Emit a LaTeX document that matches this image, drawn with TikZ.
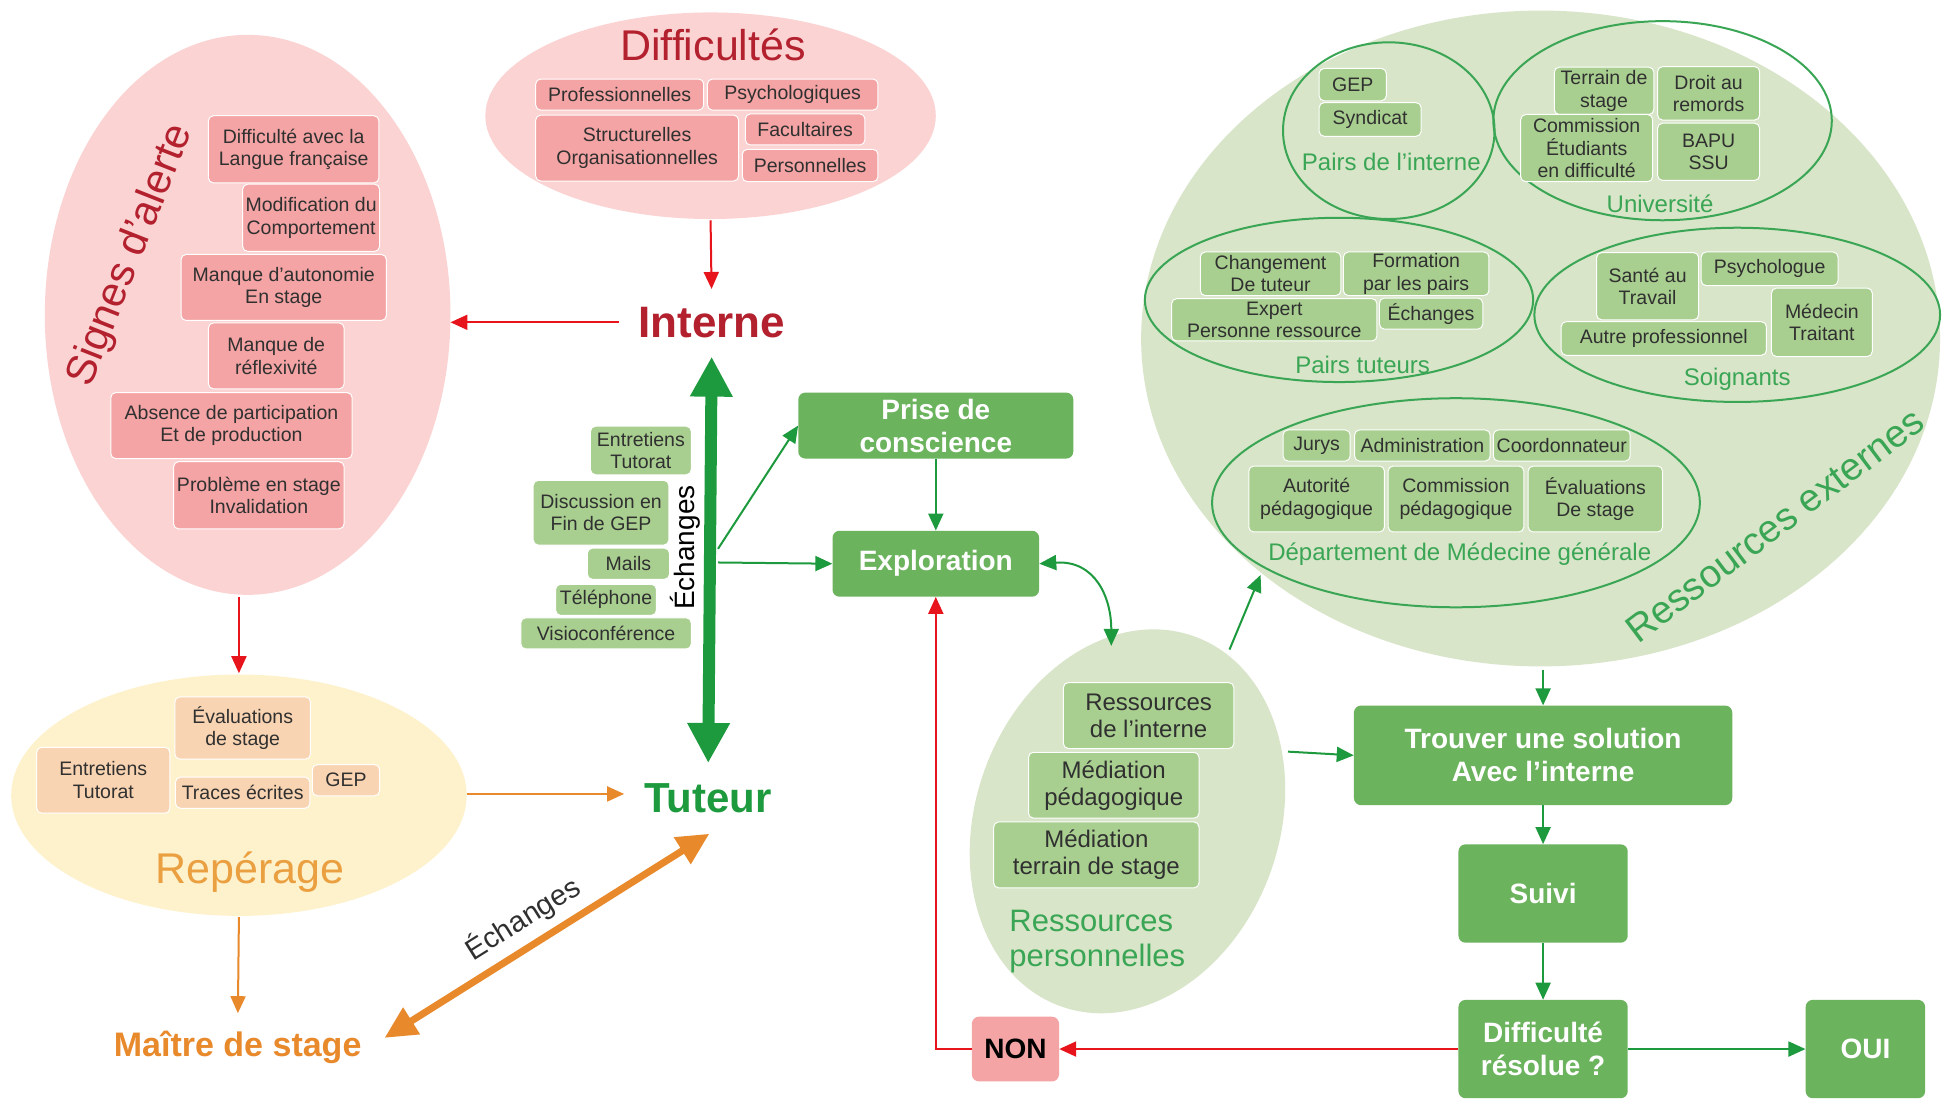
\documentclass[tikz,border=0pt]{standalone}
\usepackage{fontspec}
\setmainfont{Liberation Sans}
\usetikzlibrary{shapes.geometric,arrows.meta}
\definecolor{pinkbg}{HTML}{FBD3D3}
\definecolor{pinkbox}{HTML}{F4A4A4}
\definecolor{darkred}{HTML}{B3202E}
\definecolor{arrred}{HTML}{E8141B}
\definecolor{yelbg}{HTML}{FEF2CD}
\definecolor{peach}{HTML}{F9D4B2}
\definecolor{orng}{HTML}{E8892C}
\definecolor{orngtitle}{HTML}{EAA040}
\definecolor{dgreen}{HTML}{1E9A3E}
\definecolor{lgbg}{HTML}{D8E5C8}
\definecolor{midgreen}{HTML}{6CB35E}
\definecolor{lgbox}{HTML}{A9CF90}
\definecolor{lbltxt}{HTML}{3AA655}
\definecolor{txt}{HTML}{303030}
\begin{document}
\begin{tikzpicture}[x=1.2444pt,y=-1.2444pt,
  wh/.style 2 args={minimum width=#1*1.2444pt, minimum height=#2*1.2444pt},
  boxbase/.style={rectangle, rounded corners=5pt, inner sep=0pt, align=center, draw=white, line width=1pt, font=\fontsize{19.5}{22.5}\selectfont, text=txt},
  pbox/.style={boxbase, fill=pinkbox},
  ybox/.style={boxbase, fill=peach},
  gbox/.style={boxbase, fill=lgbox},
  rbox/.style={gbox, font=\fontsize{24}{27}\selectfont},
  mbox/.style={rectangle, rounded corners=7pt, fill=midgreen, text=white, font=\bfseries\fontsize{28}{33}\selectfont, align=center, inner sep=0pt},
  grpline/.style={draw=lbltxt, line width=2pt},
  grplbl/.style={text=lbltxt, font=\fontsize{24}{28}\selectfont, inner sep=0pt},
  redarr/.style={draw=arrred, line width=2pt, -{Triangle[length=17pt,width=15pt]}},
  grarr/.style={draw=dgreen, line width=2pt, -{Triangle[length=17pt,width=15pt]}},
  orarr/.style={draw=orng, line width=2pt, -{Triangle[length=17pt,width=15pt]}},
  title/.style={inner sep=0pt, text depth=0pt}
]
\useasboundingbox (0,0) rectangle (1568.6,884.8);
\fill[white] (0,0) rectangle (1568.6,884.8);

% ---------- background areas (drawn shapes)
\fill[pinkbg] (199,253) ellipse [x radius=163, y radius=225];
\fill[pinkbg] (571,93) ellipse [x radius=181, y radius=83];
\fill[yelbg] (192,639) ellipse [x radius=183, y radius=97];
\fill[lgbg] (1238,272) ellipse [x radius=321, y radius=263.5];
\fill[lgbg, rotate around={70:(906,660)}] (906,660) ellipse [x radius=158, y radius=122];

% ---------- Signes d'alerte
\node[title, rotate=68.5, text=darkred, font=\fontsize{42}{46}\selectfont] (signestitle) at (102,204) {Signes d’alerte};
\node[pbox, wh={137}{54}] (s1) at (236,120) {Difficulté avec la\\Langue française};
\node[pbox, wh={110}{54}] (s2) at (250,175) {Modification du\\Comportement};
\node[pbox, wh={165}{53}] (s3) at (228,231) {Manque d’autonomie\\En stage};
\node[pbox, wh={109}{53}] (s4) at (222,286) {Manque de\\réflexivité};
\node[pbox, wh={194}{53}] (s5) at (186,342) {Absence de participation\\Et de production};
\node[pbox, wh={137}{54}] (s6) at (208,398) {Problème en stage\\Invalidation};

% ---------- Difficultes
\node[title, text=darkred, font=\fontsize{43}{48}\selectfont] (difftitle) at (573,36) {Difficultés};
\node[pbox, wh={135}{25}] (d1) at (498,76) {Professionnelles};
\node[pbox, wh={137}{25}] (d2) at (637,76) {Psychologiques};
\node[pbox, wh={163}{53}] (d3) at (512,119) {Structurelles\\Organisationnelles};
\node[pbox, wh={96}{25}] (d4) at (647,104) {Facultaires};
\node[pbox, wh={109}{26}] (d5) at (651,133) {Personnelles};

% ---------- Reperage
\node[title, text=orngtitle, font=\fontsize{43}{48}\selectfont] (reptitle) at (201,697) {Repérage};
\node[ybox, wh={109}{50}] (r1) at (195,585) {Évaluations\\de stage};
\node[ybox, wh={107}{53}] (r2) at (83,627) {Entretiens\\Tutorat};
\node[ybox, wh={108}{25}] (r3) at (195,637) {Traces écrites};
\node[ybox, wh={54}{25}] (r4) at (278,627) {GEP};

% ---------- actors
\node[title, text=darkred, font=\bfseries\fontsize{44}{48}\selectfont] (interne) at (572,259) {Interne};
\node[title, text=dgreen, font=\bfseries\fontsize{42}{46}\selectfont] (tuteur) at (569,641) {Tuteur};
\node[title, text=orng, font=\bfseries\fontsize{34}{38}\selectfont] (maitre) at (191,839) {Maître de stage};

% ---------- exchange media
\node[gbox, wh={81}{39}] (e1) at (515,362) {Entretiens\\Tutorat};
\node[gbox, wh={109}{52}] (e2) at (483,412) {Discussion en\\Fin de GEP};
\node[gbox, wh={66}{25}] (e3) at (505,453) {Mails};
\node[gbox, wh={81}{25}] (e4) at (487,482) {Téléphone};
\node[gbox, wh={137}{25}] (e5) at (487,509) {Visioconférence};
\node[inner sep=0pt, rotate=90, font=\fontsize{28}{32}\selectfont] (echv) at (551,440) {Échanges};

% ---------- process boxes
\node[mbox, wh={221}{53}] (prise) at (752,342) {Prise de\\conscience};
\node[mbox, wh={166}{53}] (expl) at (752,453) {Exploration};
\node[mbox, wh={304}{80}] (trouver) at (1240,607) {Trouver une solution\\Avec l’interne};
\node[mbox, wh={136}{79}] (suivi) at (1240,718) {Suivi};
\node[mbox, wh={136}{79}] (resol) at (1240,843) {Difficulté\\résolue ?};
\node[mbox, wh={96}{79}] (oui) at (1499,843) {OUI};
\node[rectangle, rounded corners=7pt, fill=pinkbox, inner sep=0pt, wh={70}{52}, font=\bfseries\fontsize{28}{33}\selectfont, text=black] (non) at (816,843) {NON};

% ---------- ressources personnelles
\node[rbox, wh={137}{53}] (rp1) at (923,575) {Ressources\\de l’interne};
\node[rbox, wh={137}{53}] (rp2) at (895,631) {Médiation\\pédagogique};
\node[rbox, wh={165}{53}] (rp3) at (881,687) {Médiation\\terrain de stage};
\node[inner sep=0pt, anchor=west, align=left, text=lbltxt, font=\fontsize{31}{35}\selectfont] (rptitle) at (811,757) {Ressources\\personnelles};

% ---------- ressources externes: group outlines
\draw[grpline] (1116,105) ellipse [x radius=85, y radius=71];
\draw[grpline] (1336,97) ellipse [x radius=136, y radius=80];
\draw[grpline] (1076,241) ellipse [x radius=156, y radius=66];
\draw[grpline] (1396,253) ellipse [x radius=163, y radius=70];
\draw[grpline] (1170,404) ellipse [x radius=196, y radius=84];

\node[grplbl] (lpi) at (1118,130) {Pairs de l’interne};
\node[grplbl] (lun) at (1334,164) {Université};
\node[grplbl] (lpt) at (1095,293) {Pairs tuteurs};
\node[grplbl] (lso) at (1396,305) {Soignants};
\node[grplbl] (ldm) at (1173,445) {Département de Médecine générale};
\node[title, rotate=37, text=lbltxt, font=\fontsize{38.5}{42}\selectfont] (rexttitle) at (1426,422) {Ressources externes};

\node[gbox, wh={54}{26}] (p1) at (1087,68) {GEP};
\node[gbox, wh={82}{27}] (p2) at (1101,96) {Syndicat};
\node[gbox, wh={80}{38}] (u1) at (1289,73) {Terrain de\\stage};
\node[gbox, wh={82}{43}] (u2) at (1373,75) {Droit au\\remords};
\node[gbox, wh={106}{54}] (u3) at (1275,119) {Commission\\Étudiants\\en difficulté};
\node[gbox, wh={82}{46}] (u4) at (1373,122) {BAPU\\SSU};
\node[gbox, wh={113}{35}] (t1) at (1021,220) {Changement\\De tuteur};
\node[gbox, wh={117}{35}] (t2) at (1138,220) {Formation\\par les pairs};
\node[gbox, wh={165}{34}] (t3) at (1024,257) {Expert\\Personne ressource};
\node[gbox, wh={83}{25}] (t4) at (1150,252) {Échanges};
\node[gbox, wh={82}{54}] (g1) at (1324,230) {Santé au\\Travail};
\node[gbox, wh={110}{27}] (g2) at (1422,216) {Psychologue};
\node[gbox, wh={81}{55}] (g3) at (1464,259) {Médecin\\Traitant};
\node[gbox, wh={165}{27}] (g4) at (1337,272) {Autre professionnel};
\node[gbox, wh={54}{25}] (m1) at (1058,358) {Jurys};
\node[gbox, wh={109}{25}] (m2) at (1143,358) {Administration};
\node[gbox, wh={110}{25}] (m3) at (1255,358) {Coordonnateur};
\node[gbox, wh={109}{53}] (m4) at (1058,401) {Autorité\\pédagogique};
\node[gbox, wh={109}{53}] (m5) at (1170,401) {Commission\\pédagogique};
\node[gbox, wh={108}{53}] (m6) at (1282,401) {Évaluations\\De stage};

% ---------- named free ends (on the drawn areas)
\coordinate (diffS) at (571,177);
\coordinate (signesE) at (362,259);
\coordinate (signesS) at (192,480);
\coordinate (repN) at (192,541);
\coordinate (repE) at (375,638);
\coordinate (repS) at (192,737);
\coordinate (echA) at (577,441);
\coordinate (echB) at (577,452);
\coordinate (rpTop) at (893,519);
\coordinate (rpNE) at (988,522);
\coordinate (rextSW) at (1013,462);
\coordinate (rpE) at (1035,604);
\coordinate (rextS) at (1240,538);
\coordinate (oTop) at (570,670);
\coordinate (oBot) at (309,834);
\coordinate (nonCorner) at (752,843);

% ---------- connectors
\draw[redarr, shorten >=18pt] (diffS) -- (interne.north);
\draw[redarr, shorten <=19pt] (interne.west) -- (signesE);
\draw[redarr] (signesS) -- (repN);
\draw[orarr, shorten >=20pt] (repE) -- (repE -| tuteur.west);
\draw[orarr, shorten >=18pt] (repS) -- (maitre.north);
\draw[draw=orng, line width=7pt, {Triangle[length=32pt,width=30pt]}-{Triangle[length=32pt,width=30pt]}] (oBot) -- node[pos=0.47, sloped, above=5pt, text=txt, font=\fontsize{29}{32}\selectfont] (echo) {Échanges} (oTop);
\draw[draw=dgreen, line width=12pt, {Triangle[length=40pt,width=40pt]}-{Triangle[length=40pt,width=40pt]}, shorten <=20pt, shorten >=19pt] (tuteur.north) -- (interne.south);

\draw[grarr] (echA) -- (prise.west);
\draw[grarr] (echB) -- (expl.west);
\draw[grarr] (prise.south) -- (expl.north);
\draw[draw=dgreen, line width=2pt, {Triangle[length=17pt,width=15pt]}-{Triangle[length=17pt,width=15pt]}] (expl.east) .. controls (880,450) and (893,480) .. (rpTop);
\draw[grarr] (rpNE) -- (rextSW);
\draw[grarr] (rpE) -- (trouver.west);
\draw[grarr] (rextS) -- (trouver.north);
\draw[grarr] (trouver.south) -- (suivi.north);
\draw[grarr] (suivi.south) -- (resol.north);
\draw[grarr] (resol.east) -- (oui.west);
\draw[redarr] (resol.west) -- (non.east);
\draw[redarr] (non.west) -- (nonCorner) -- (expl.south);
\end{tikzpicture}
\end{document}
